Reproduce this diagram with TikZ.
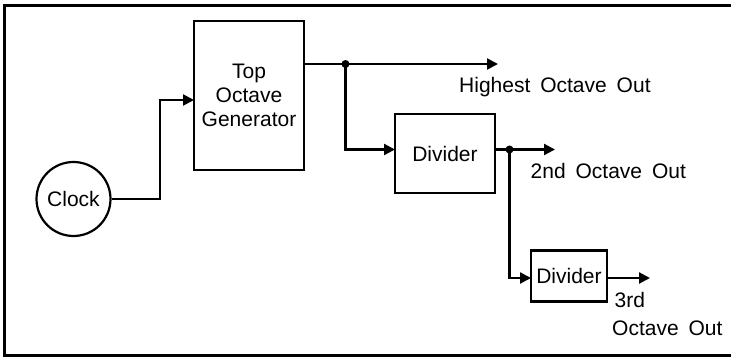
\documentclass[tikz,border=0pt]{standalone}
\usepackage{fontspec}
\setmainfont{Liberation Sans}[WordSpace=1.7]
\usetikzlibrary{arrows.meta}

\tikzset{
  blk/.style={draw, line width=2.2pt, inner sep=0pt, align=center},
  wire/.style={line width=2.2pt, -{Triangle[length=11pt,width=11pt]}},
  junc/.style={circle, fill, inner sep=0pt, minimum size=8pt},
  lbl/.style={inner sep=0pt, anchor=base west},
}

\begin{document}
\begin{tikzpicture}[x=1pt, y=-1pt, font=\fontsize{21}{23.8}\selectfont]
  \useasboundingbox (0,0) rectangle (731,358);
  % frame, open on the right
  \draw[line width=3pt] (731,5.5) -- (4.5,5.5) -- (4.5,355.5) -- (731,355.5);

  % blocks
  \node[blk, circle, minimum size=74pt] (clock) at (73.5,199) {Clock};
  \node[blk, minimum width=110pt, minimum height=149pt] (tog) at (249,95.5) {Top\\Octave\\Generator};
  \node[blk, minimum width=100pt, minimum height=79pt] (div1) at (445,153.5) {Divider};
  \node[blk, minimum width=76pt, minimum height=51pt] (div2) at (569,276) {Divider};

  % connection points
  \coordinate (togin) at (194,100);
  \coordinate (j1) at (345.5,64);
  \coordinate (hout) at (498,64);
  \coordinate (d1in) at (395,149.5);
  \coordinate (j2) at (509.5,149.5);
  \coordinate (out2) at (555,149.5);
  \coordinate (d2in) at (531,278);
  \coordinate (out3) at (650,278);

  % wires
  \draw[wire] (clock.east) -- ++(48,0) |- (togin);
  \draw[wire] (tog.east |- j1) -- (hout);
  \draw[wire] (j1) |- (d1in);
  \draw[wire] (div1.east |- j2) -- (out2);
  \draw[wire] (j2) |- (d2in);
  \draw[wire] (div2.east |- out3) -- (out3);
  \node[junc] (dot1) at (j1) {};
  \node[junc] (dot2) at (j2) {};

  % outputs
  \node[lbl] (hlbl) at (459,92.5) {Highest Octave Out};
  \node[lbl] (lbl2) at (530.5,179) {2nd Octave Out};
  \node[lbl] (lbl3a) at (614.5,307) {3rd};
  \node[lbl] (lbl3b) at (612,335) {Octave Out};
\end{tikzpicture}
\end{document}
